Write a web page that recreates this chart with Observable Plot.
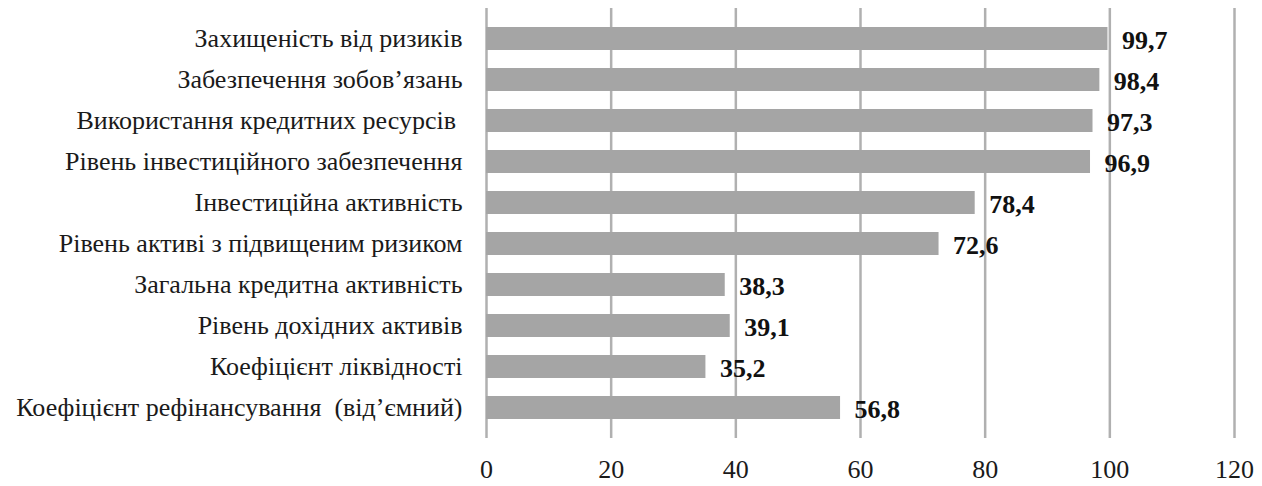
<!DOCTYPE html>
<html><head><meta charset="utf-8">
<script src="https://cdn.jsdelivr.net/npm/d3@7"></script>
<script src="https://cdn.jsdelivr.net/npm/@observablehq/plot@0.6"></script>
<style>body{margin:0;background:#fff}</style>
</head><body><div id="chart"></div>
<script>
const categories = [
  "Захищеність від ризиків",
  "Забезпечення зобов’язань",
  "Використання кредитних ресурсів ",
  "Рівень інвестиційного забезпечення",
  "Інвестиційна активність",
  "Рівень активі з підвищеним ризиком",
  "Загальна кредитна активність",
  "Рівень дохідних активів",
  "Коефіцієнт ліквідності",
  "Коефіцієнт рефінансування  (від’ємний)"
];
const values = [99.7, 98.4, 97.3, 96.9, 78.4, 72.6, 38.3, 39.1, 35.2, 56.8];
const valueLabels = ["99,7", "98,4", "97,3", "96,9", "78,4", "72,6", "38,3", "39,1", "35,2", "56,8"];
const xTicks = [0, 20, 40, 60, 80, 100, 120];

const data = categories.map((c, i) => ({category: c, value: values[i], label: valueLabels[i]}));
const serif = "Liberation Serif";

const chart = Plot.plot({
  width: 1262, height: 486,
  marginLeft: 486, marginRight: 28, marginTop: 8, marginBottom: 48,
  style: {fontFamily: serif, background: "#fff", color: "#000"},
  x: {domain: [0, 120], label: null},
  y: {domain: categories, padding: 0.44, label: null},
  marks: [
    Plot.ruleX(xTicks, {stroke: "#b0b0b0", strokeWidth: 2.5}),
    Plot.barX(data, {x: "value", y: "category", fill: "#a5a5a5"}),
    Plot.text(data, {x: "value", y: "category", text: "label", textAnchor: "start", dx: 14, dy: 2, fontSize: 26, fontWeight: "bold", fill: "#111", fontFamily: serif}),
    Plot.axisY({tickSize: 0, tickPadding: 24, fontSize: 26, fill: "#1a1a1a", fontFamily: serif, label: null}),
    Plot.axisX({ticks: xTicks, tickSize: 0, tickPadding: 21, fontSize: 26, fill: "#1a1a1a", fontFamily: serif, label: null})
  ]
});
document.getElementById("chart").append(chart);
</script>
</body></html>
